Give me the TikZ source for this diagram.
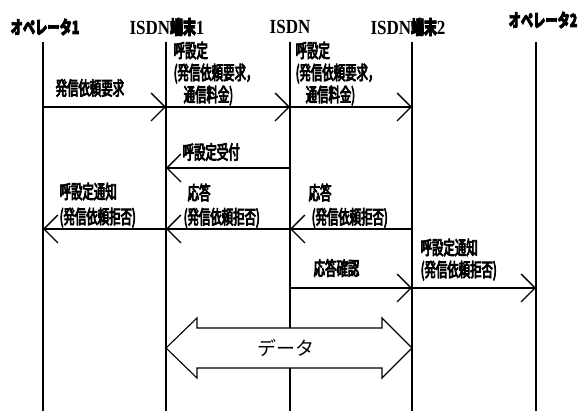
\documentclass[tikz,border=0pt]{standalone}
\usepackage{fontspec}
\setmainfont{Liberation Serif}[FakeStretch=0.85]
\newfontfamily\jp[FakeStretch=0.6,FakeBold=4]{Noto Sans CJK JP}
\newfontfamily\jphead[FakeStretch=0.68,FakeBold=4]{Noto Sans CJK JP}
\newfontfamily\jpdata{Noto Sans CJK JP}
\usetikzlibrary{arrows.meta}

\begin{document}
\begin{tikzpicture}[x=1pt,y=-1pt,line width=1.4pt,
  msg/.style={-{Straight Barb[length=14pt,width=28pt]}},
  lbl/.style={anchor=north west,align=left,inner sep=0pt,
    font=\jp\fontsize{19}{22}\selectfont},
  head/.style={inner sep=0pt,font=\bfseries\fontsize{20}{20}\selectfont}]
  \useasboundingbox (0,0) rectangle (582,411);
  \node[head] (op1) at (45,27) {\jphead\fontsize{18}{18}\selectfont オペレータ1};
  \node[head] (t1) at (167,27) {ISDN{\jphead\fontsize{19}{19}\selectfont 端末}1};
  \node[head] (isdn) at (290,27) {ISDN};
  \node[head] (t2) at (408,27) {ISDN{\jphead\fontsize{19}{19}\selectfont 端末}2};
  \node[head] (op2) at (543,20) {\jphead\fontsize{18}{18}\selectfont オペレータ2};
  \foreach \name/\xpos in {op1/43,t1/166,isdn/290,t2/412,op2/536} {
    \coordinate (\name-top) at (\xpos,42);
    \coordinate (\name-end) at (\xpos,411);
    \draw (\name-top) -- (\name-end);
  }
  \coordinate (r1) at (0,107);
  \coordinate (r2) at (0,168);
  \coordinate (r3) at (0,229);
  \coordinate (r4) at (0,288);
  \draw[msg] (op1-top |- r1) -- (t1-top |- r1);
  \draw[msg] (t1-top |- r1) -- (isdn-top |- r1);
  \draw[msg] (isdn-top |- r1) -- (t2-top |- r1);
  \draw[msg] (isdn-top |- r2) -- (t1-top |- r2);
  \draw[msg] (isdn-top |- r3) -- (t1-top |- r3);
  \draw[msg] (t1-top |- r3) -- (op1-top |- r3);
  \draw[msg] (t2-top |- r3) -- (isdn-top |- r3);
  \draw[msg] (isdn-top |- r4) -- (t2-top |- r4);
  \draw[msg] (t2-top |- r4) -- (op2-top |- r4);
  \node[lbl,anchor=west] (req) at (55,88) {発信依頼要求};
  \node[lbl] (setup1) at (173,41) {呼設定\\(発信依頼要求，\\\hspace{10pt}通信料金)};
  \node[lbl] (setup2) at (295,41) {呼設定\\(発信依頼要求，\\\hspace{10pt}通信料金)};
  \node[lbl,anchor=west] (accept) at (182,152) {呼設定受付};
  \node[lbl,font=\jp\fontsize{19}{24}\selectfont] (ans1) at (183,183) {\hspace{4pt}応答\\(発信依頼拒否)};
  \node[lbl,font=\jp\fontsize{19}{25}\selectfont] (notify1) at (59,182) {呼設定通知\\(発信依頼拒否)};
  \node[lbl,font=\jp\fontsize{19}{24}\selectfont] (ans2) at (308,183) {応答\\\hspace{3pt}(発信依頼拒否)};
  \node[lbl,anchor=west] (ack) at (313,268) {応答確認};
  \node[lbl] (notify2) at (420,238) {呼設定通知\\(発信依頼拒否)};
  \draw[fill=white,line width=1.1pt] (166,348) -- (197,318) -- (197,328) -- (382,328)
    -- (382,318) -- (412,348) -- (382,378) -- (382,368) -- (197,368) -- (197,378) -- cycle;
  \node[font=\jpdata\fontsize{19}{19}\selectfont] (data) at (286,348) {データ};
\end{tikzpicture}
\end{document}
